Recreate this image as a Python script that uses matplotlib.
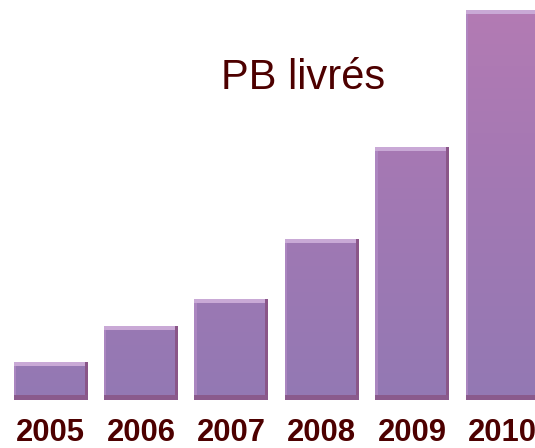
import matplotlib
matplotlib.use("Agg")
import matplotlib.pyplot as plt
import numpy as np
from matplotlib.patches import Rectangle
from matplotlib.colors import LinearSegmentedColormap

years = ["2005", "2006", "2007", "2008", "2009", "2010"]
values = [38, 74, 101, 161, 253, 390]
title = "PB livrés"

W, H = 535, 448
fig = plt.figure(figsize=(W / 100, H / 100), dpi=100)
pitch = 90.4
left = -50.5 / pitch
ax = fig.add_axes([0, 48 / H, 1, 400 / H])
ax.set_xlim(left, left + W / pitch)
ax.set_ylim(0, 400)
for s in ax.spines.values():
    s.set_visible(False)
ax.set_yticks([])

x = np.arange(len(years))
bw = 74 / pitch
bars = ax.bar(x, values, width=bw, color="none", edgecolor="none")

cmap = LinearSegmentedColormap.from_list("g", ["#9379b3", "#a278b4", "#b47bb3"])
grad = np.linspace(0, 1, 256).reshape(-1, 1)
px = 1 / pitch
for b in bars:
    bx, by, w, h = b.get_x(), b.get_y(), b.get_width(), b.get_height()
    im = ax.imshow(grad, cmap=cmap, origin="lower", aspect="auto",
                   extent=(left, left + W / pitch, 0, 400), zorder=1)
    im.set_clip_path(b)
    # edges
    ax.add_patch(Rectangle((bx, by + h - 4), w, 4, color="#c9a9d6", lw=0, zorder=2))
    ax.add_patch(Rectangle((bx, by), 2.5 * px, h - 4, color="#b08ac4", lw=0, zorder=2, alpha=0.8))
    ax.add_patch(Rectangle((bx + w - 3 * px, by), 3 * px, h, color="#8a5688", lw=0, zorder=2))
    ax.add_patch(Rectangle((bx, by), w, 5, color="#8a5a8c", lw=0, zorder=3))

ax.set_xticks(x)
ax.set_xticklabels(years, fontsize=22.3, fontweight="bold", color="#4d0000",
                   family=["Liberation Sans", "DejaVu Sans"])
ax.tick_params(axis="x", length=0, pad=13.3)

fig.text(303.5 / W, 1 - 78 / H, title, ha="center", va="center", fontsize=30,
         color="#4d0000", family=["Liberation Sans", "DejaVu Sans"])

fig.savefig("out.png", dpi=100, facecolor="white")
